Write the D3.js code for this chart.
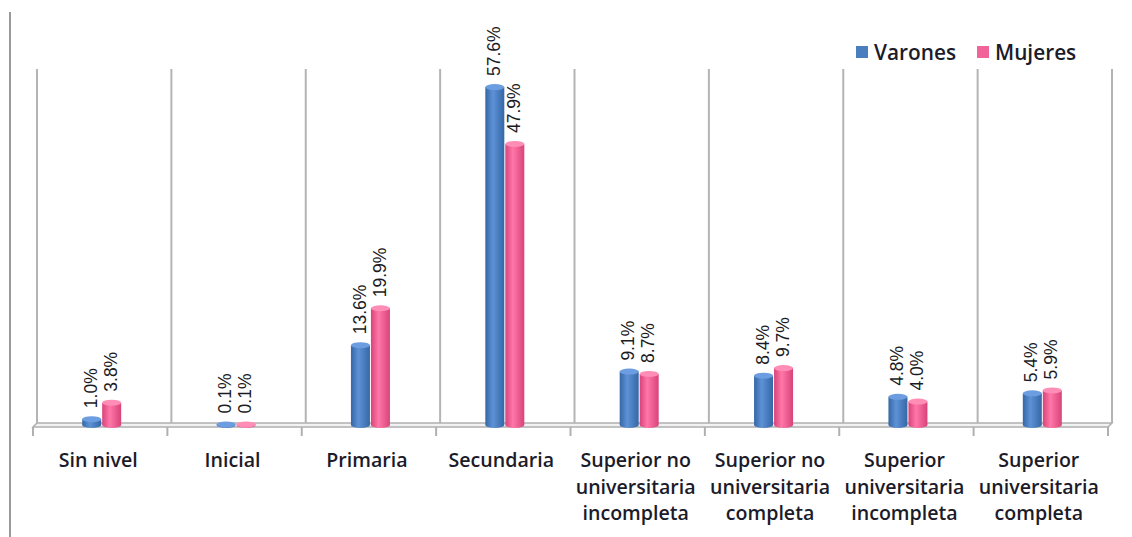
<!DOCTYPE html>
<html>
<head>
<meta charset="utf-8">
<script src="https://cdn.jsdelivr.net/npm/d3@7/dist/d3.min.js"></script>
<style>
  html, body { margin: 0; padding: 0; background: #fff; }
  svg { display: block; }
</style>
</head>
<body>
<svg id="chart" width="1132" height="537"></svg>
<script>
const categories = [
  ["Sin nivel"],
  ["Inicial"],
  ["Primaria"],
  ["Secundaria"],
  ["Superior no", "universitaria", "incompleta"],
  ["Superior no", "universitaria", "completa"],
  ["Superior", "universitaria", "incompleta"],
  ["Superior", "universitaria", "completa"]
];
const seriesNames = ["Varones", "Mujeres"];
const varones = [1.0, 0.1, 13.6, 57.6, 9.1, 8.4, 4.8, 5.4];
const mujeres = [3.8, 0.1, 19.9, 47.9, 8.7, 9.7, 4.0, 5.9];
const seriesValues = [varones, mujeres];
const colors = {
  Varones: { edge: "#3567a6", mid: "#5d92d6", top: "#6c9de0", key: "#4a7ebf" },
  Mujeres: { edge: "#d8437a", mid: "#ff77a8", top: "#ff8db6", key: "#f2639a" }
};

const svg = d3.select("#chart");
const W = 1132, H = 537;
const left = 37, right = 1112, baseY = 425, dx = -4, dy = 4;

const x = d3.scaleBand().domain(d3.range(categories.length)).range([left, right]).padding(0);
const y = d3.scaleLinear().domain([0, 60]).range([baseY, 73]);
const xs = d3.scaleBand().domain(seriesNames).range([-19.5, 19.5]).paddingInner(0.05);

const defs = svg.append("defs");
seriesNames.forEach(s => {
  const g = defs.append("linearGradient").attr("id", "g_" + s).attr("x1", "0").attr("x2", "1").attr("y1", "0").attr("y2", "0");
  g.append("stop").attr("offset", "0%").attr("stop-color", colors[s].edge);
  g.append("stop").attr("offset", "40%").attr("stop-color", colors[s].mid);
  g.append("stop").attr("offset", "100%").attr("stop-color", colors[s].edge);
});

// page border line at left
svg.append("line").attr("x1", 10).attr("x2", 10).attr("y1", 12).attr("y2", H)
  .attr("stroke", "#9a9a9a").attr("stroke-width", 2);

// floor
const floorY = baseY - 2;
svg.append("path")
  .attr("d", `M${left},${floorY} L${right},${floorY} L${right + dx},${floorY + dy} L${left + dx},${floorY + dy} Z`)
  .attr("fill", "#f2f2f2").attr("stroke", "#b0b0b0").attr("stroke-width", 1.5);

// back wall gridlines at category boundaries
const bounds = x.domain().map(i => x(i)).concat([right]);
svg.append("g").selectAll("line").data(bounds).join("line")
  .attr("x1", d => d).attr("x2", d => d)
  .attr("y1", 69).attr("y2", floorY)
  .attr("stroke", "#b4b4b4").attr("stroke-width", 2);

// tick marks at front edge
svg.append("g").selectAll("line").data(bounds).join("line")
  .attr("x1", d => d + dx).attr("x2", d => d + dx)
  .attr("y1", floorY + dy).attr("y2", floorY + dy + 9)
  .attr("stroke", "#b0b0b0").attr("stroke-width", 2);

// bars as cylinders
const barsG = svg.append("g");
const lblG = svg.append("g");
const ry = 3;
categories.forEach((cat, i) => {
  const c = x(i) + x.bandwidth() / 2 - 2.5;
  seriesNames.forEach((s, k) => {
    const v = seriesValues[k][i];
    const bx = c + xs(s), bw = xs.bandwidth();
    const top = y(v), bot = y(0);
    barsG.append("path")
      .attr("d", `M${bx},${top} L${bx},${bot} A${bw / 2},${ry} 0 0 0 ${bx + bw},${bot} L${bx + bw},${top} Z`)
      .attr("fill", `url(#g_${s})`);
    barsG.append("ellipse")
      .attr("cx", bx + bw / 2).attr("cy", top).attr("rx", bw / 2).attr("ry", ry)
      .attr("fill", colors[s].top);
    const lx = bx + bw / 2 - 1, ly = top - 11;
    lblG.append("text")
      .attr("transform", `translate(${lx},${ly}) rotate(-90)`)
      .attr("dy", "0.35em")
      .attr("font-family", "Liberation Sans, Arial, sans-serif")
      .attr("font-size", 17.5)
      .attr("fill", "#1b1b24")
      .text(v.toFixed(1) + "%");
  });
});

// category labels
const catG = svg.append("g");
categories.forEach((lines, i) => {
  const c = x(i) + x.bandwidth() / 2 - 6;
  const t = catG.append("text")
    .attr("text-anchor", "middle")
    .attr("font-family", "Open Sans, sans-serif")
    .attr("font-weight", 600)
    .attr("font-size", 19.6)
    .attr("fill", "#1b1b2a");
  lines.forEach((ln, j) => {
    t.append("tspan").attr("x", c).attr("y", 467 + j * 26.5).text(ln);
  });
});

// legend
const lg = svg.append("g");
const legendPos = [{ s: "Varones", x: 856 }, { s: "Mujeres", x: 977 }];
legendPos.forEach(p => {
  lg.append("rect").attr("x", p.x).attr("y", 46).attr("width", 12).attr("height", 12)
    .attr("fill", colors[p.s].key);
  lg.append("text").attr("x", p.x + 18).attr("y", 60)
    .attr("font-family", "Open Sans, sans-serif").attr("font-weight", 600)
    .attr("font-size", 20.8).attr("fill", "#1b1b2a")
    .text(p.s);
});
</script>
</body>
</html>
